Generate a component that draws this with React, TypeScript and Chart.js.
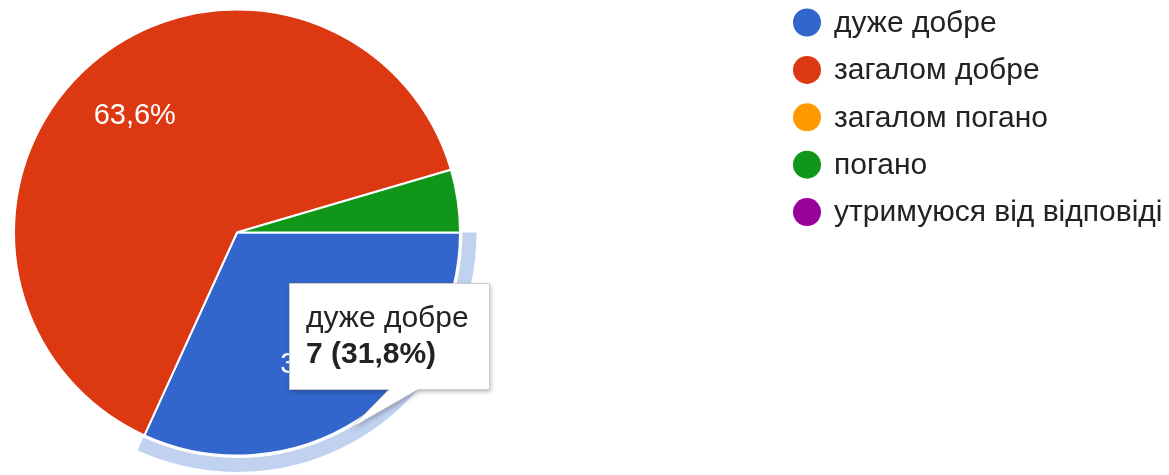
import React, { useEffect, useRef } from "react";
import { Chart, registerables } from "chart.js";

Chart.register(...registerables);

const categories = [
  "дуже добре",
  "загалом добре",
  "загалом погано",
  "погано",
  "утримуюся від відповіді",
];
const responses = [7, 14, 0, 1, 0];
const sliceColors = ["#3366cc", "#dc3912", "#ff9900", "#109618", "#990099"];
const highlightedIndex = 0;

const FONT = '"Liberation Sans", Arial, sans-serif';
const FONT_SIZE = 30;

function fmtPct(v: number, total: number): string {
  return ((v / total) * 100).toFixed(1).replace(".", ",") + "%";
}

const overlayPlugin = {
  id: "overlay",
  afterDatasetsDraw(chart: any) {
    const ctx = chart.ctx as CanvasRenderingContext2D;
    const meta = chart.getDatasetMeta(0);
    const total = responses.reduce((a, b) => a + b, 0);
    ctx.save();
    // hover ring around highlighted slice
    const arc = meta.data[highlightedIndex];
    const p = arc.getProps(["x", "y", "startAngle", "endAngle", "outerRadius"], true);
    ctx.fillStyle = "rgba(51,102,204,0.3)";
    ctx.beginPath();
    ctx.arc(p.x, p.y, p.outerRadius + 2.5, p.startAngle, p.endAngle);
    ctx.arc(p.x, p.y, p.outerRadius + 16.5, p.endAngle, p.startAngle, true);
    ctx.closePath();
    ctx.fill();

    // percentage labels
    ctx.font = `29px ${FONT}`;
    ctx.fillStyle = "#ffffff";
    ctx.textAlign = "center";
    ctx.textBaseline = "middle";
    meta.data.forEach((el: any, i: number) => {
      if (responses[i] / total < 0.1) return;
      const q = el.getProps(["x", "y", "startAngle", "endAngle", "outerRadius"], true);
      const mid = (q.startAngle + q.endAngle) / 2;
      const r = q.outerRadius * 0.7;
      ctx.fillText(fmtPct(responses[i], total), q.x + Math.cos(mid) * r, q.y + Math.sin(mid) * r + 1);
    });
    ctx.restore();
  },
  afterDraw(chart: any) {
    const ctx = chart.ctx as CanvasRenderingContext2D;
    const total = responses.reduce((a, b) => a + b, 0);
    ctx.save();
    // legend
    const lx = 807;
    const ly0 = 22.5;
    const lstep = 47.4;
    categories.forEach((c, i) => {
      const cy = ly0 + i * lstep;
      ctx.fillStyle = sliceColors[i];
      ctx.beginPath();
      ctx.arc(lx, cy, 14, 0, Math.PI * 2);
      ctx.fill();
      ctx.fillStyle = "#222222";
      ctx.font = `${FONT_SIZE}px ${FONT}`;
      ctx.textAlign = "left";
      ctx.textBaseline = "middle";
      ctx.fillText(c, 834, cy + 1);
    });

    // tooltip
    const bx = 289.5,
      by = 283.5,
      bw = 200,
      bh = 106;
    ctx.beginPath();
    ctx.moveTo(bx, by);
    ctx.lineTo(bx + bw, by);
    ctx.lineTo(bx + bw, by + bh);
    ctx.lineTo(418, by + bh);
    ctx.lineTo(351, 428);
    ctx.lineTo(389, by + bh);
    ctx.lineTo(bx, by + bh);
    ctx.closePath();
    ctx.shadowColor = "rgba(0,0,0,0.3)";
    ctx.shadowBlur = 5;
    ctx.shadowOffsetX = 1;
    ctx.shadowOffsetY = 2;
    ctx.fillStyle = "#ffffff";
    ctx.fill();
    ctx.shadowColor = "transparent";
    ctx.strokeStyle = "#cccccc";
    ctx.lineWidth = 1;
    ctx.stroke();

    ctx.fillStyle = "#222222";
    ctx.textAlign = "left";
    ctx.textBaseline = "alphabetic";
    ctx.font = `${FONT_SIZE}px ${FONT}`;
    ctx.fillText(categories[highlightedIndex], 306, 327);
    ctx.font = `bold ${FONT_SIZE}px ${FONT}`;
    ctx.fillText(
      `${responses[highlightedIndex]} (${fmtPct(responses[highlightedIndex], total)})`,
      306,
      363
    );
    ctx.restore();
  },
};

export default function App() {
  const canvasRef = useRef<HTMLCanvasElement | null>(null);

  useEffect(() => {
    if (!canvasRef.current) return;
    const chart = new Chart(canvasRef.current, {
      type: "pie",
      data: {
        labels: categories,
        datasets: [
          {
            data: responses,
            backgroundColor: sliceColors,
            borderColor: "#ffffff",
            borderWidth: 2,
            hoverOffset: 0,
          },
        ],
      },
      options: {
        responsive: false,
        animation: false,
        rotation: 90,
        events: [],
        layout: {
          padding: { left: 13, top: 8, right: 708, bottom: 18 },
        },
        plugins: {
          legend: { display: false },
          tooltip: { enabled: false },
        },
      },
      plugins: [overlayPlugin],
    });
    return () => chart.destroy();
  }, []);

  return (
    <div style={{ position: "absolute", left: 0, top: 0, width: 1169, height: 475, background: "#fff" }}>
      <canvas ref={canvasRef} width={1169} height={475} style={{ display: "block" }} />
    </div>
  );
}
